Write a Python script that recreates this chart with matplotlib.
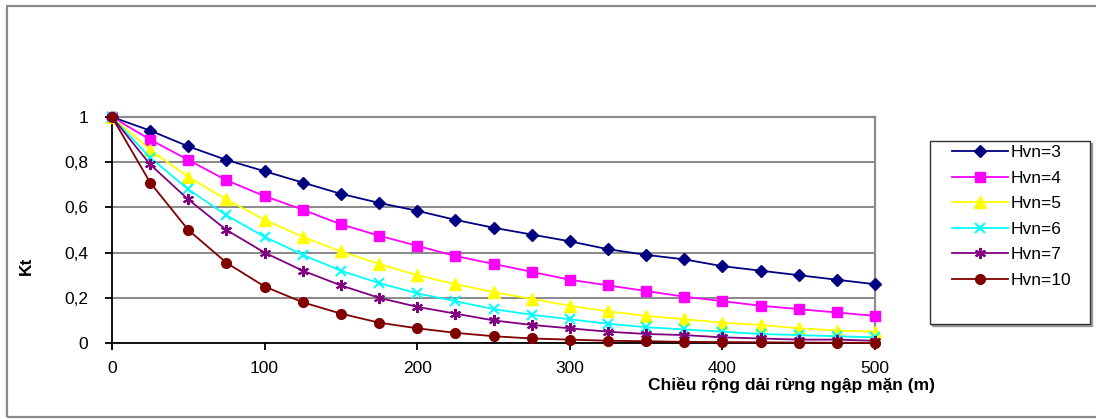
import matplotlib
matplotlib.use("Agg")
import matplotlib.pyplot as plt
from matplotlib.patches import Rectangle

plt.rcParams['font.family'] = ['Liberation Sans', 'DejaVu Sans']

# Data
width_m = [0, 25, 50, 75, 100, 125, 150, 175, 200, 225, 250,
           275, 300, 325, 350, 375, 400, 425, 450, 475, 500]
kt_hvn3 = [1.0, 0.94, 0.87, 0.81, 0.76, 0.71, 0.66, 0.62, 0.585, 0.545, 0.51,
           0.48, 0.45, 0.415, 0.39, 0.37, 0.34, 0.32, 0.30, 0.28, 0.26]
kt_hvn4 = [1.0, 0.90, 0.81, 0.72, 0.65, 0.59, 0.525, 0.475, 0.43, 0.385, 0.35,
           0.315, 0.28, 0.255, 0.23, 0.205, 0.185, 0.165, 0.15, 0.135, 0.12]
kt_hvn5 = [1.0, 0.855, 0.735, 0.635, 0.545, 0.47, 0.405, 0.35, 0.30, 0.26, 0.225,
           0.195, 0.165, 0.14, 0.12, 0.105, 0.09, 0.08, 0.065, 0.055, 0.05]
kt_hvn6 = [1.0, 0.82, 0.68, 0.565, 0.47, 0.39, 0.32, 0.265, 0.22, 0.185, 0.15,
           0.125, 0.105, 0.085, 0.07, 0.06, 0.05, 0.04, 0.035, 0.03, 0.025]
kt_hvn7 = [1.0, 0.79, 0.635, 0.50, 0.40, 0.32, 0.255, 0.20, 0.16, 0.13, 0.10,
           0.08, 0.065, 0.05, 0.04, 0.035, 0.025, 0.02, 0.015, 0.015, 0.01]
kt_hvn10 = [1.0, 0.71, 0.50, 0.355, 0.25, 0.18, 0.13, 0.09, 0.065, 0.045, 0.03,
            0.02, 0.015, 0.01, 0.008, 0.005, 0.004, 0.003, 0.002, 0.001, 0.001]
series_labels = ["Hvn=3", "Hvn=4", "Hvn=5", "Hvn=6", "Hvn=7", "Hvn=10"]
x_ticks = [0, 100, 200, 300, 400, 500]
y_ticks = [0, 0.2, 0.4, 0.6, 0.8, 1.0]
y_tick_labels = ["0", "0,2", "0,4", "0,6", "0,8", "1"]
x_label = "Chiều rộng dải rừng ngập mặn (m)"
y_label = "Kt"

W, H = 1096, 419
fig = plt.figure(figsize=(W / 100, H / 100), dpi=100)
fig.patch.set_facecolor('white')

def fx(px):
    return px / W

def fy(py):
    return 1 - py / H

# outer frame
fig.patches.append(Rectangle((fx(7), fy(417)), fx(1200), fy(6) - fy(417),
                             transform=fig.transFigure, fill=False,
                             edgecolor='#8a8a8a', lw=1.6, zorder=0))

ax = fig.add_axes([fx(112), fy(343), fx(875) - fx(112), fy(117) - fy(343)])

styles = [
    dict(color='#000080', marker='D', ms=6.5, mec='#000080', mfc='#000080'),
    dict(color='#FF00FF', marker='s', ms=7.5, mec='#FF00FF', mfc='#FF00FF'),
    dict(color='#FFFF00', marker='^', ms=8.5, mec='#FFFF00', mfc='#FFFF00'),
    dict(color='#00FFFF', marker='x', ms=7, mec='#00FFFF', mew=1.5),
    dict(color='#800080', marker=(6, 2, 0), ms=8, mec='#800080', mew=1.5),
    dict(color='#800000', marker='o', ms=7, mec='#800000', mfc='#800000'),
]
all_series = [kt_hvn3, kt_hvn4, kt_hvn5, kt_hvn6, kt_hvn7, kt_hvn10]
handles = []
for ys, lab, st in zip(all_series, series_labels, styles):
    ln, = ax.plot(width_m, ys, lw=1.3, label=lab, clip_on=False, zorder=3, **st)
    handles.append(ln)

ax.set_xlim(0, 500)
ax.set_ylim(0, 1)
ax.set_xticks(x_ticks)
ax.set_xticklabels([str(v) for v in x_ticks])
ax.set_yticks(y_ticks)
ax.set_yticklabels(y_tick_labels)
ax.tick_params(axis='both', direction='out', length=5, width=1.3, labelsize=12.5,
               colors='black')
ax.tick_params(axis='y', pad=12)
ax.tick_params(axis='x', pad=8)

ax.grid(axis='y', color='#808080', lw=1.3, zorder=1)
ax.set_axisbelow(True)
for s in ['top', 'right']:
    ax.spines[s].set_color('#8c8c8c')
    ax.spines[s].set_linewidth(1.6)
for s in ['left', 'bottom']:
    ax.spines[s].set_color('black')
    ax.spines[s].set_linewidth(1.3)

ax.set_xlabel(x_label, fontsize=12.5, fontweight='bold', va='center', ha='center')
ax.xaxis.set_label_coords((792 - 112) / 763, (343 - 385) / 226)
ax.set_ylabel(y_label, fontsize=12.5, fontweight='bold', va='center', ha='center')
ax.yaxis.set_label_coords((26 - 112) / 763, (343 - 266) / 226)

# legend frame (with shadow)
fig.patches.append(Rectangle((fx(932), fy(326)), fx(1092) - fx(932), fy(143) - fy(326),
                             transform=fig.transFigure, fill=True, facecolor='#9a9a9a',
                             edgecolor='#9a9a9a', lw=1, zorder=1))
fig.patches.append(Rectangle((fx(930), fy(324)), fx(1090) - fx(930), fy(141) - fy(324),
                             transform=fig.transFigure, fill=True, facecolor='white',
                             edgecolor='#333333', lw=1, zorder=2))

leg = fig.legend(handles=handles, labels=series_labels, loc='upper left',
                 bbox_to_anchor=(fx(952), fy(145)), bbox_transform=fig.transFigure,
                 frameon=False, borderpad=0, borderaxespad=0, fontsize=12.5,
                 handlelength=3.2, handletextpad=0.2, labelspacing=0.6)
leg.set_zorder(5)

fig.savefig('out.png', dpi=100, facecolor='white')
